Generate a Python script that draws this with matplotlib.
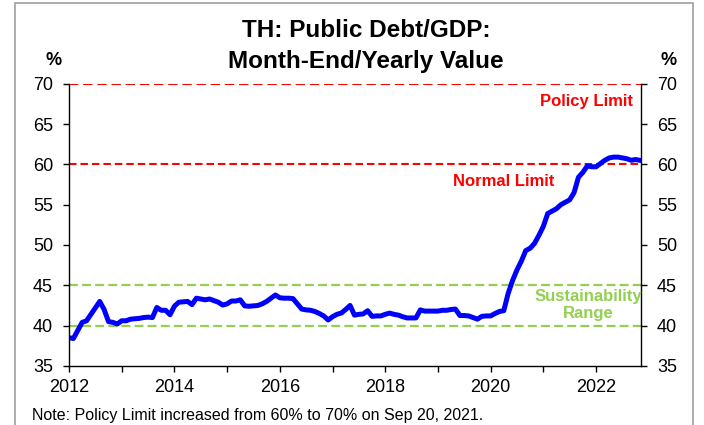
import numpy as np
import matplotlib.pyplot as plt
from matplotlib.patches import Rectangle

plt.rcParams['font.family'] = ['Liberation Sans', 'DejaVu Sans']

# monthly public debt / GDP (%), Jan 2012 .. Nov 2022
debt = [
    38.5, 38.4, 39.4, 40.4, 40.6, 41.4, 42.2, 43.0, 42.0, 40.5, 40.4, 40.2,
    40.6, 40.6, 40.8, 40.85, 40.9, 41.0, 41.05, 41.0, 42.25, 41.9, 41.9, 41.35,
    42.4, 42.9, 42.95, 43.0, 42.6, 43.4, 43.3, 43.2, 43.3, 43.1, 42.9, 42.55,
    42.7, 43.05, 43.05, 43.2, 42.45, 42.4, 42.45, 42.5, 42.7, 43.0, 43.4, 43.8,
    43.45, 43.4, 43.4, 43.35, 42.7, 42.05, 41.95, 41.9, 41.75, 41.5, 41.2, 40.7,
    41.1, 41.4, 41.55, 42.0, 42.5, 41.3, 41.4, 41.45, 41.85, 41.15, 41.2, 41.2,
    41.4, 41.55, 41.4, 41.3, 41.1, 40.95, 40.95, 40.95, 41.95, 41.8, 41.8, 41.8,
    41.8, 41.9, 41.9, 42.0, 42.05, 41.25, 41.25, 41.2, 41.0, 40.8, 41.15, 41.2,
    41.2, 41.5, 41.75, 41.85, 44.0, 45.6, 46.9, 48.0, 49.3, 49.6, 50.2, 51.2,
    52.3, 53.9, 54.2, 54.5, 55.0, 55.3, 55.6, 56.5, 58.4, 59.0, 59.8, 59.7,
    59.7, 60.1, 60.5, 60.8, 60.9, 60.9, 60.8, 60.7, 60.5, 60.6, 60.5,
]
start_year = 2012
policy_limit = 70
normal_limit = 60
sustain_range = [40, 45]
years = list(range(2012, 2023))
yticks = [35, 40, 45, 50, 55, 60, 65, 70]

x = start_year + np.arange(len(debt)) / 12.0

fig = plt.figure(figsize=(7.04, 4.25), dpi=100)
ax = fig.add_axes([0.098, 0.139, 0.8125, 0.664])

red = '#FF0000'
green = '#92D050'
ax.axhline(policy_limit, color=red, ls=(0, (4.5, 2.3)), lw=1.5)
ax.axhline(normal_limit, color=red, ls=(0, (3.6, 1.9)), lw=1.5)
for v in sustain_range:
    ax.axhline(v, color=green, ls=(0, (4.0, 1.9)), lw=1.6)

ax.plot(x, debt, color='#0000FF', lw=3.6, solid_joinstyle='round')

ax.set_xlim(start_year, start_year + (len(debt) - 1) / 12.0 + 0.02)
ax.set_ylim(35, 70)
ax.set_xticks(years)
ax.set_xticklabels([str(y) if y % 2 == 0 else '' for y in years])
ax.set_yticks(yticks)
ax.tick_params(axis='both', labelsize=13, direction='out', length=4.5, width=1,
               right=True, labelright=True)
ax.tick_params(axis='y', pad=7)
ax.tick_params(axis='x', pad=5)
ax.spines['top'].set_visible(False)
for s in ['left', 'right', 'bottom']:
    ax.spines[s].set_linewidth(1)

ax.text(2021.81, 67.18, 'Policy Limit', color=red, fontsize=12,
        fontweight='bold', ha='center', va='baseline')
ax.text(2020.24, 57.26, 'Normal Limit', color=red, fontsize=12,
        fontweight='bold', ha='center', va='baseline')
ax.text(2021.85, 43.0, 'Sustainability', color=green, fontsize=12,
        fontweight='bold', ha='center', va='baseline')
ax.text(2021.85, 41.0, 'Range', color=green, fontsize=12,
        fontweight='bold', ha='center', va='baseline')

fig.text(0.52, 0.913, 'TH: Public Debt/GDP:', fontsize=17.5, fontweight='bold',
         ha='center', va='baseline')
fig.text(0.52, 0.84, 'Month-End/Yearly Value', fontsize=17.5, fontweight='bold',
         ha='center', va='baseline')
fig.text(0.0755, 0.847, '%', fontsize=13, fontweight='bold', ha='center', va='baseline')
fig.text(0.949, 0.847, '%', fontsize=13, fontweight='bold', ha='center', va='baseline')
fig.text(0.045, 0.0118, 'Note: Policy Limit increased from 60% to 70% on Sep 20, 2021.',
         fontsize=11.5, ha='left', va='baseline')

fig.patches.append(Rectangle((0.0213, -0.02), 0.963, 1.013, transform=fig.transFigure,
                             fill=False, edgecolor='#A0A0A0', lw=1.2))

fig.savefig('out.png', dpi=100)
